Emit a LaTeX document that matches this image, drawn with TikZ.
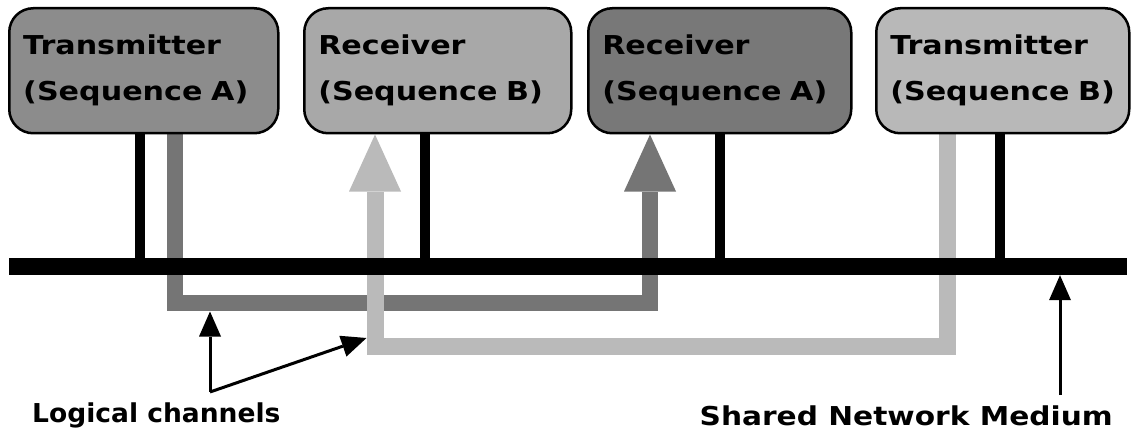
\documentclass[tikz,border=0pt]{standalone}
\usepackage{fontspec}
\usetikzlibrary{arrows.meta}
\newfontfamily\boxfont[FakeStretch=1.16]{DejaVu Sans}
\newfontfamily\labfont[FakeStretch=1.02]{DejaVu Sans}
\newfontfamily\labwidefont[FakeStretch=1.14]{DejaVu Sans}
\definecolor{gTA}{gray}{0.55}
\definecolor{gRB}{gray}{0.66}
\definecolor{gRA}{gray}{0.47}
\definecolor{gTB}{gray}{0.72}
\definecolor{chDark}{gray}{0.46}
\definecolor{chLight}{gray}{0.73}
\pgfdeclarelayer{bg}
\pgfsetlayers{bg,main}
\tikzset{
  unit/.style={draw=black, line width=2.5pt, rounded corners=24pt,
    minimum height=125pt, inner xsep=14pt, inner ysep=0pt, align=left,
    anchor=north west, font=\boxfont\bfseries\fontsize{26}{46}\selectfont},
  busline/.style={fill=black, draw=none, inner sep=0pt,
    minimum width=1118pt, minimum height=17pt},
  stem/.style={draw=black, line width=10pt},
  chanDark/.style={draw=chDark, line width=16pt, miter limit=10,
    -{Triangle[width=52pt,length=57pt,line width=0pt]}},
  chanLight/.style={draw=chLight, line width=17pt, miter limit=10,
    -{Triangle[width=52pt,length=57pt,line width=0pt]}},
  pointer/.style={draw=black, line width=3pt,
    -{Triangle[width=22pt,length=25pt,line width=0pt]}},
  lab/.style={inner sep=0pt, font=\labfont\bfseries\fontsize{26}{30}\selectfont},
  labwide/.style={inner sep=0pt, font=\labwidefont\bfseries\fontsize{26}{30}\selectfont}
}
\begin{document}
\begin{tikzpicture}[x=1pt,y=-1pt]
\useasboundingbox (0,0) rectangle (1132,433);

% stations
\node[unit, fill=gTA, text width=241pt, minimum width=269pt] (tA) at (8,7) {Transmitter\\(Sequence A)};
\node[unit, fill=gRB, text width=239pt, minimum width=267pt] (rB) at (303,7) {Receiver\\(Sequence B)};
\node[unit, fill=gRA, text width=235pt, minimum width=263pt] (rA) at (587,7) {Receiver\\(Sequence A)};
\node[unit, fill=gTB, text width=225pt, minimum width=253pt] (tB) at (875,7) {Transmitter\\(Sequence B)};

% shared medium
\node[busline] (bus) at (568,266.5) {};

% attachment points
\coordinate (s1) at (140,0);
\coordinate (s2) at (425,0);
\coordinate (s3) at (720,0);
\coordinate (s4) at (1000,0);

% channel bends
\coordinate (dk1) at (175,303);
\coordinate (dk2) at (650,303);
\coordinate (lt1) at (947,346);
\coordinate (lt2) at (375,346);

\begin{pgfonlayer}{bg}
  \fill[black] (bus.north west) rectangle (bus.south east);
  \draw[stem] (tA.south -| s1) -- (bus.north -| s1);
  \draw[stem] (rB.south -| s2) -- (bus.north -| s2);
  \draw[stem] (rA.south -| s3) -- (bus.north -| s3);
  \draw[stem] (tB.south -| s4) -- (bus.north -| s4);
  \draw[chanDark] (tA.south -| dk1) -- (dk1) -- (dk2) -- (rA.south -| dk2);
  \draw[chanLight] (tB.south -| lt1) -- (lt1) -- (lt2) -- (rB.south -| lt2);
\end{pgfonlayer}

% pointers and labels
\coordinate (lv) at (210,392);
\coordinate (p1) at (210,311.5);
\coordinate (p2) at (366.5,338);
\coordinate (sv) at (1060,395);
\draw[pointer] (lv) -- (p1);
\draw[pointer] (lv) -- (p2);
\draw[pointer] (sv) -- (bus.south -| sv);

\node[lab, anchor=base west] (lc) at (32,422) {Logical channels};
\node[labwide, anchor=base east] (sn) at (1113,425) {Shared Network Medium};
\end{tikzpicture}
\end{document}
